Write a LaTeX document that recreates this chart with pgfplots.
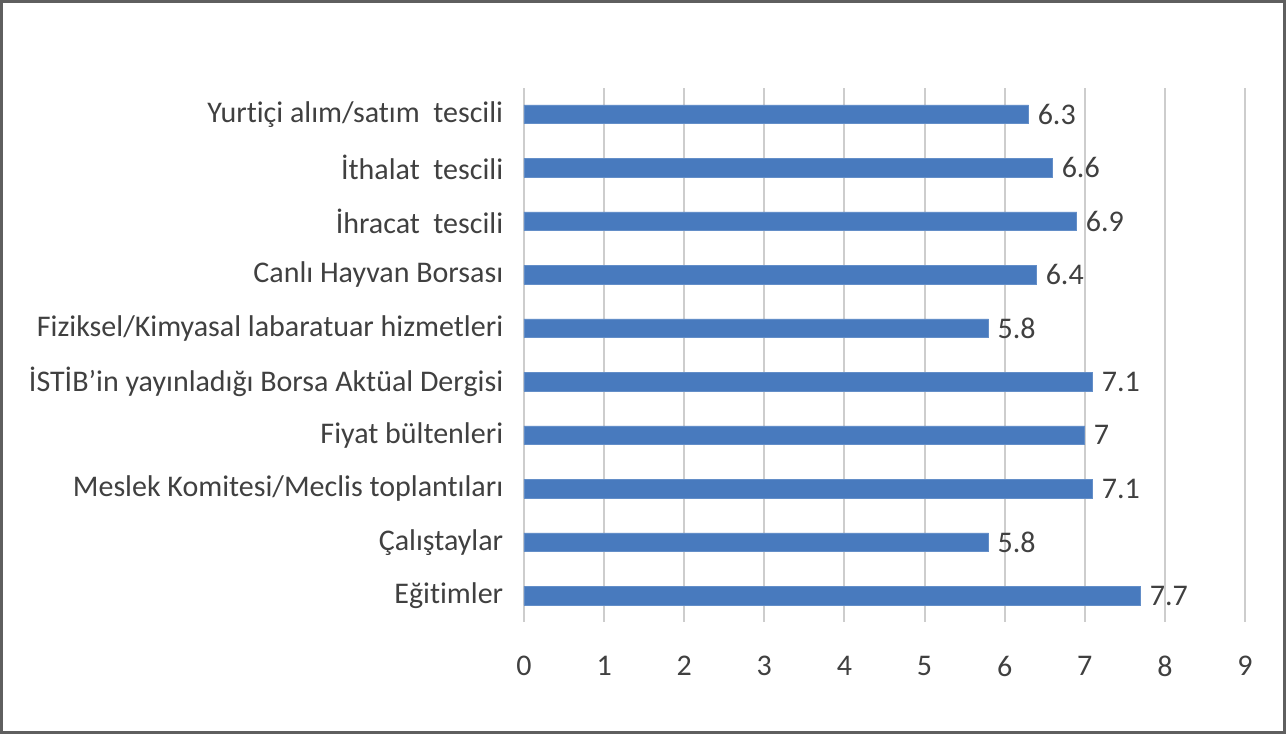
\documentclass[border=0pt]{standalone}
\usepackage{pgfplots}
\pgfplotsset{compat=1.18}
\usepackage{fontspec}
\setmainfont{Carlito}[Ligatures=NoCommon]
\definecolor{barblue}{RGB}{72,122,190}
\definecolor{gridgray}{RGB}{205,205,205}
\definecolor{textgray}{RGB}{64,64,64}
\definecolor{framegray}{RGB}{95,95,95}

\pgfplotstableread{
idx val
0 7.7
1 5.8
2 7.1
3 7
4 7.1
5 5.8
6 6.4
7 6.9
8 6.6
9 6.3
}\scores

\begin{document}
\begin{tikzpicture}
% outer frame sets the page size (643pt x 367pt)
\draw[framegray, line width=1.5pt] (0.75pt,0.75pt) rectangle (642.25pt,366.25pt);
\begin{axis}[
  at={(262pt,56pt)}, anchor=south west,
  scale only axis, width=360.5pt, height=267pt,
  xbar, bar width=9.3pt,
  xmin=0, xmax=9, ymin=-0.49, ymax=9.49,
  xtick={0,...,9}, ytick={0,...,9},
  yticklabels={Eğitimler, Çalıştaylar, Meslek Komitesi/Meclis toplantıları,
    Fiyat bültenleri, İSTİB’in yayınladığı Borsa Aktüal Dergisi,
    Fiziksel/Kimyasal labaratuar hizmetleri, Canlı Hayvan Borsası,
    İhracat~ tescili, İthalat~ tescili, Yurtiçi alım/satım~ tescili},
  axis line style={draw=none},
  tick style={draw=none},
  xmajorgrids,
  major grid style={gridgray, line width=1pt},
  /pgf/number format/assume math mode=true,
  tick label style={font=\fontsize{15}{18}\selectfont, text=textgray},
  xticklabel style={yshift=-13.5pt},
  yticklabel style={xshift=-2.6pt},
  nodes near coords,
  nodes near coords style={font=\fontsize{15}{18}\selectfont, text=textgray,
    anchor=west, xshift=1pt,
    /pgf/number format/fixed, /pgf/number format/precision=1},
]
\addplot[fill=barblue, draw=barblue!85!white, line width=0.4pt] table[x=val, y=idx] {\scores};
\end{axis}
\end{tikzpicture}
\end{document}
